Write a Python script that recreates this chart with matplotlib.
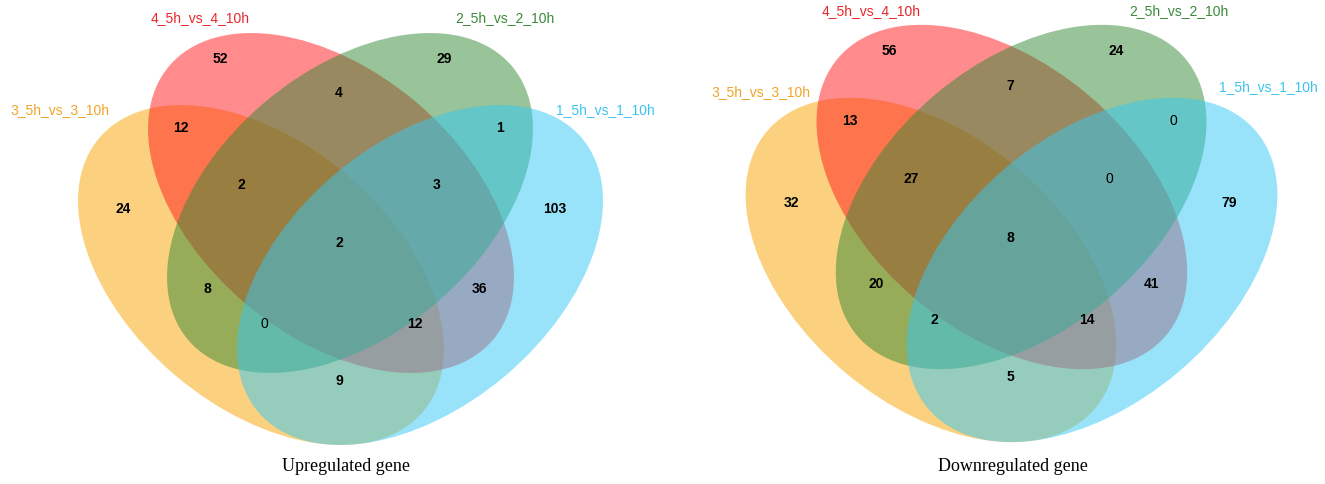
import matplotlib
matplotlib.use("Agg")
import matplotlib.pyplot as plt
from matplotlib.patches import Ellipse

# set names (drawing order: yellow, red, green, blue)
set_names = ["3_5h_vs_3_10h", "4_5h_vs_4_10h", "2_5h_vs_2_10h", "1_5h_vs_1_10h"]
set_colors = ["#F9A500", "#FF191D", "#358935", "#33C9F7"]
label_colors = ["#F0A428", "#E8262A", "#3A8A3A", "#3CC4EE"]

# region keys: Y=3_5h, R=4_5h, G=2_5h, B=1_5h
regions = ["R", "G", "RG", "Y", "RY", "GB", "B", "YRG", "RGB", "YRGB",
           "YG", "RB", "YGB", "YRB", "YB"]
up_counts = [52, 29, 4, 24, 12, 1, 103, 2, 3, 2, 8, 36, 0, 12, 9]
down_counts = [56, 24, 7, 32, 13, 0, 79, 27, 0, 8, 20, 41, 2, 14, 5]
titles = ["Upregulated gene", "Downregulated gene"]

# layout (pixels, relative to the panel centre)
region_pos = {
    "R": (-120.5, -145), "G": (103.5, -145), "RG": (-1.5, -111),
    "Y": (-217.5, 5), "RY": (-159.5, -76), "GB": (159.5, -76),
    "B": (214.5, 5), "YRG": (-99.5, -19), "RGB": (96.5, -19),
    "YRGB": (-1.5, 39), "YG": (-133.5, 85), "RB": (138.5, 85),
    "YGB": (-76.5, 120), "YRB": (74.5, 120), "YB": (-1.5, 177),
}
ell_centres = [(-79.5, 72), (-9.5, 0), (9.5, 0), (79.5, 72)]
ell_angles = [40.2, 40.2, -40.2, -40.2]
semi_a, semi_b = 212, 132

panels = [
    {"origin": (340.5, 204), "scale": 1.0, "title_xy": (346, 467),
     "label_xy": [(60, 110), (200, 18), (505, 18), (605, 110)]},
    {"origin": (1011.5, 198), "scale": 1.013, "title_xy": (1013, 467),
     "label_xy": [(761, 92), (871, 11), (1179, 11), (1268, 87)]},
]

fig = plt.figure(figsize=(13.25, 4.85), dpi=100)
ax = fig.add_axes([0, 0, 1, 1])
ax.set_xlim(0, 1325)
ax.set_ylim(485, 0)
ax.axis("off")

for panel, counts, title in zip(panels, [up_counts, down_counts], titles):
    ox, oy = panel["origin"]
    s = panel["scale"]
    for (cx, cy), ang, col in zip(ell_centres, ell_angles, set_colors):
        ax.add_patch(Ellipse((ox + cx * s, oy + cy * s), 2 * semi_a * s, 2 * semi_b * s,
                             angle=ang, facecolor=col, alpha=0.5, linewidth=0))
    for key, val in zip(regions, counts):
        dx, dy = region_pos[key]
        ax.text(ox + dx * s, oy + dy * s, str(val), ha="center", va="center",
                fontsize=10, family="Liberation Sans",
                fontweight="normal" if val == 0 else "bold")
    for name, (lx, ly), col in zip(set_names, panel["label_xy"], label_colors):
        ax.text(lx, ly, name, ha="center", va="center", fontsize=10,
                family="Liberation Sans", color=col)
    ax.text(*panel["title_xy"], title, ha="center", va="center", fontsize=13,
            family="Liberation Serif")

fig.savefig("out.png", dpi=100)
